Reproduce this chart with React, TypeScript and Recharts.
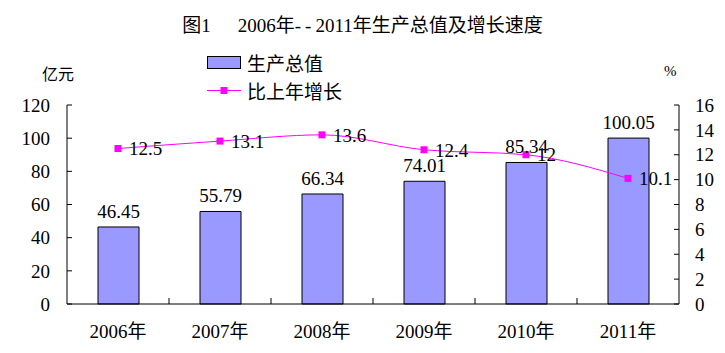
import React from 'react';
import { ComposedChart, Bar, Line, XAxis, YAxis, LabelList, Legend } from 'recharts';

const years = ['2006年', '2007年', '2008年', '2009年', '2010年', '2011年'];
const outputValues = [46.45, 55.79, 66.34, 74.01, 85.34, 100.05];
const growthValues = [12.5, 13.1, 13.6, 12.4, 12, 10.1];
const leftTicks = [0, 20, 40, 60, 80, 100, 120];
const rightTicks = [0, 2, 4, 6, 8, 10, 12, 14, 16];
const seriesNames = { output: '生产总值', growth: '比上年增长' };
const titleParts = ['图1', '2006年', '--', '2011年生产总值及增长速度'];

const data = years.map((year, i) => ({ year, output: outputValues[i], growth: growthValues[i] }));

const FONT = '"Liberation Serif", "Noto Sans CJK SC", serif';
const BAR_FILL = '#9999FF';
const LINE_COLOR = '#FF00FF';

const XTick = (props: any) => {
  const { x, y, payload, index } = props;
  const half = 51;
  return (
    <g>
      <text x={x} y={y + 34} textAnchor="middle" fontSize={19} fontFamily={FONT} fill="#000">
        {payload.value}
      </text>
      {index < years.length - 1 && (
        <line x1={x + half} x2={x + half} y1={y} y2={y - 6} stroke="#000" strokeWidth={1} />
      )}
    </g>
  );
};

const SquareDot = (props: any) => {
  const { cx, cy } = props;
  if (cx == null || cy == null) return null;
  return <rect x={cx - 3.5} y={cy - 3.5} width={7} height={7} fill={LINE_COLOR} />;
};

const LegendContent = () => (
  <div style={{ fontFamily: FONT, fontSize: 19, color: '#000' }}>
    <div style={{ display: 'flex', alignItems: 'center', height: 28 }}>
      <svg width={34} height={13} style={{ display: 'block' }}>
        <rect x={0.5} y={0.5} width={33} height={12} fill={BAR_FILL} stroke="#000" />
      </svg>
      <span style={{ marginLeft: 6, whiteSpace: 'nowrap' }}>{seriesNames.output}</span>
    </div>
    <div style={{ display: 'flex', alignItems: 'center', height: 28 }}>
      <svg width={34} height={9} style={{ display: 'block' }}>
        <line x1={0} x2={34} y1={4.5} y2={4.5} stroke={LINE_COLOR} strokeWidth={1} />
        <rect x={13.5} y={1} width={7} height={7} fill={LINE_COLOR} />
      </svg>
      <span style={{ marginLeft: 6, whiteSpace: 'nowrap' }}>{seriesNames.growth}</span>
    </div>
  </div>
);

export default function App() {
  const tickStyle = { fontSize: 19, fontFamily: FONT, fill: '#000' };
  return (
    <div style={{ position: 'absolute', left: 0, top: 0, width: 725, height: 353, background: '#fff' }}>
      <ComposedChart
        width={725}
        height={353}
        data={data}
        margin={{ top: 105, right: 0, bottom: 0, left: 0 }}
      >
        <XAxis
          dataKey="year"
          interval={0}
          height={49}
          tickSize={0}
          tickMargin={0}
          tickLine={false}
          axisLine={{ stroke: '#000', strokeWidth: 1 }}
          tick={<XTick />}
        />
        <YAxis
          yAxisId="left"
          orientation="left"
          width={67}
          domain={[0, 120]}
          ticks={leftTicks}
          interval={0}
          tickSize={-5}
          tickMargin={22}
          axisLine={{ stroke: '#000', strokeWidth: 1 }}
          tickLine={{ stroke: '#000', strokeWidth: 1 }}
          tick={tickStyle}
        />
        <YAxis
          yAxisId="right"
          orientation="right"
          width={46}
          domain={[0, 16]}
          ticks={rightTicks}
          interval={0}
          tickSize={-5}
          tickMargin={21}
          axisLine={{ stroke: '#000', strokeWidth: 1 }}
          tickLine={{ stroke: '#000', strokeWidth: 1 }}
          tick={tickStyle}
        />
        <Legend
          layout="vertical"
          align="center"
          verticalAlign="middle"
          content={<LegendContent />}
          wrapperStyle={{ left: 207, top: 48, width: 200, height: 56 }}
        />
        <Bar
          yAxisId="left"
          dataKey="output"
          name={seriesNames.output}
          fill={BAR_FILL}
          stroke="#000"
          strokeWidth={1}
          barSize={41}
          isAnimationActive={false}
        >
          <LabelList dataKey="output" position="top" offset={9} fontSize={19} fontFamily={FONT} fill="#000" />
        </Bar>
        <Line
          yAxisId="right"
          dataKey="growth"
          name={seriesNames.growth}
          type="monotone"
          stroke={LINE_COLOR}
          strokeWidth={1}
          dot={<SquareDot />}
          activeDot={false}
          isAnimationActive={false}
        >
          <LabelList dataKey="growth" position="right" offset={11} fontSize={19} fontFamily={FONT} fill="#000" />
        </Line>
      </ComposedChart>
      <div
        style={{
          position: 'absolute',
          left: 0,
          width: 725,
          top: 13,
          textAlign: 'center',
          fontFamily: FONT,
          fontSize: 19,
          lineHeight: '26px',
          color: '#000',
          whiteSpace: 'nowrap',
        }}
      >
        <span style={{ position: 'relative', left: 0 }}>
          {titleParts[0]}
          <span style={{ display: 'inline-block', width: 27 }} />
          {titleParts[1]}
          <span style={{ letterSpacing: 4 }}>{titleParts[2]}</span>
          {titleParts[3]}
        </span>
      </div>
      <div
        style={{
          position: 'absolute',
          left: 42,
          top: 64,
          fontFamily: FONT,
          fontSize: 16,
          lineHeight: '22px',
          color: '#000',
          whiteSpace: 'nowrap',
        }}
      >
        亿元
      </div>
      <div
        style={{
          position: 'absolute',
          left: 664,
          top: 61,
          fontFamily: FONT,
          fontSize: 15,
          lineHeight: '20px',
          color: '#000',
        }}
      >
        %
      </div>
    </div>
  );
}
